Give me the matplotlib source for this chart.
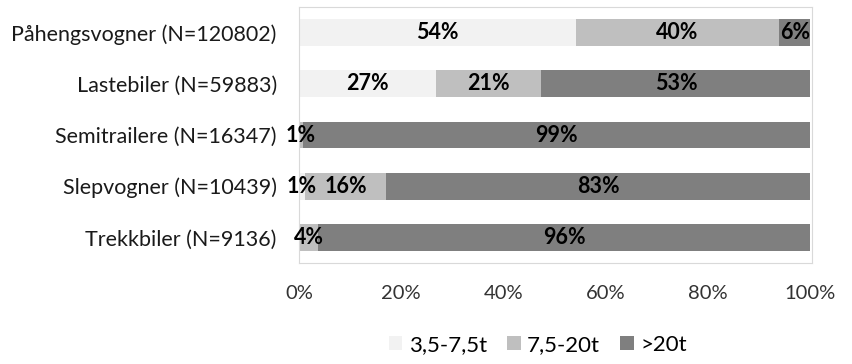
import matplotlib.pyplot as plt
from matplotlib.patches import Patch

plt.rcParams['font.family'] = ['Lato', 'DejaVu Sans']

categories = ['Påhengsvogner (N=120802)', 'Lastebiler (N=59883)',
              'Semitrailere (N=16347)', 'Slepvogner (N=10439)',
              'Trekkbiler (N=9136)']
small = [54.1, 26.7, 0.0, 1.2, 0.0]      # 3,5-7,5t
medium = [39.8, 20.7, 0.8, 15.8, 3.8]    # 7,5-20t
large = [6.1, 52.6, 99.2, 83.0, 96.2]    # >20t
series_names = ['3,5-7,5t', '7,5-20t', '>20t']
colors = ['#f2f2f2', '#bfbfbf', '#7f7f7f']
xticks = [0, 20, 40, 60, 80, 100]

fig = plt.figure(figsize=(8.53, 3.64), dpi=100)
ax = fig.add_axes([299 / 853, 1 - 263 / 364, 513 / 853, 256 / 364])

y = list(range(len(categories)))
left = [0] * len(categories)
for vals, col in zip([small, medium, large], colors):
    ax.barh(y, vals, left=left, height=0.52, color=col)
    for i, v in enumerate(vals):
        if v > 0:
            ax.text(left[i] + v / 2, i, f'{round(v)}%', ha='center', va='center',
                    fontsize=15.5, fontweight='bold', color='black')
    left = [a + b for a, b in zip(left, vals)]

ax.set_ylim(len(categories) - 0.5, -0.5)
ax.set_xlim(0, 100.3)
ax.set_yticks(y)
ax.set_yticklabels(categories, fontsize=15.5, color='#1a1a1a')
ax.set_xticks(xticks)
ax.set_xticklabels([f'{t}%' for t in xticks], fontsize=14.5, color='#333333')
ax.tick_params(axis='both', length=0)
ax.tick_params(axis='x', pad=16)
ax.tick_params(axis='y', pad=16)
for s in ax.spines.values():
    s.set_color('#d9d9d9')

handles = [Patch(facecolor=c, label=n) for c, n in zip(colors, series_names)]
fig.legend(handles=handles, loc='center', bbox_to_anchor=(538 / 853, 1 - 345 / 364),
           ncol=3, frameon=False, fontsize=16, handlelength=0.6, handleheight=0.6,
           handletextpad=0.3, columnspacing=0.9, borderpad=0)

fig.savefig('out.png', dpi=100)
